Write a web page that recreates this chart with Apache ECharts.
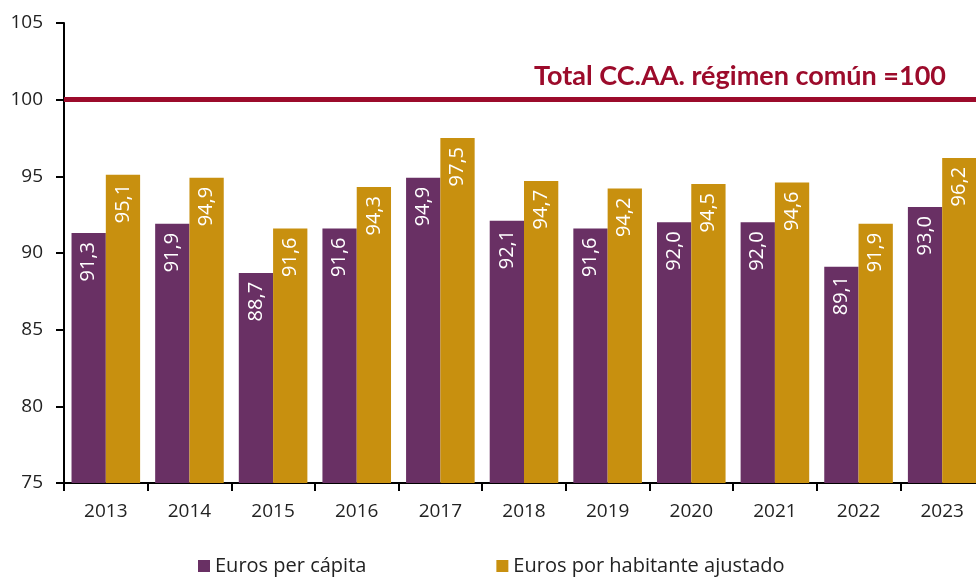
<!DOCTYPE html>
<html>
<head>
<meta charset="utf-8">
<script src="https://cdn.jsdelivr.net/npm/echarts@6/dist/echarts.min.js"></script>
<style>
  html, body { margin: 0; padding: 0; background: #fff; }
  #chart { width: 976px; height: 577px; }
</style>
</head>
<body>
<div id="chart"></div>
<script>
// datos
var years = ['2013', '2014', '2015', '2016', '2017', '2018', '2019', '2020', '2021', '2022', '2023'];
var perCapita = [91.3, 91.9, 88.7, 91.6, 94.9, 92.1, 91.6, 92.0, 92.0, 89.1, 93.0];
var ajustado = [95.1, 94.9, 91.6, 94.3, 97.5, 94.7, 94.2, 94.5, 94.6, 91.9, 96.2];
var yTicks = [75, 80, 85, 90, 95, 100, 105];
var referencia = 100;
var refLabel = 'Total CC.AA. régimen común =100';
var seriesNames = ['Euros per cápita', 'Euros por habitante ajustado'];

var fontBase = '"Open Sans", "Noto Sans", sans-serif';

function fmt(v) {
    return v.toFixed(1).replace('.', ',');
}

var barLabel = {
    show: true,
    position: 'insideTop',
    rotate: 90,
    align: 'right',
    verticalAlign: 'middle',
    distance: 9,
    color: '#ffffff',
    fontSize: 20,
    fontFamily: fontBase,
    formatter: function (p) { return fmt(p.value); }
};

var chart = echarts.init(document.getElementById('chart'));
chart.setOption({
    animation: false,
    color: ['#693064', '#c8900f'],
    grid: {
        left: 64,
        top: 23,
        bottom: 94,
        width: 920,
        containLabel: false,
        outerBoundsMode: 'none'
    },
    legend: {
        top: 551,
        left: 193,
        itemWidth: 12,
        itemHeight: 12,
        itemGap: 130,
        icon: 'rect',
        textStyle: { fontSize: 20, color: '#222', fontFamily: fontBase },
        data: seriesNames
    },
    xAxis: {
        type: 'category',
        data: years,
        axisLine: { lineStyle: { color: '#000', width: 2 } },
        axisTick: { show: true, length: 8, lineStyle: { color: '#000', width: 2 } },
        axisLabel: { fontSize: 19, color: '#222', margin: 19, fontFamily: fontBase },
        splitLine: { show: false }
    },
    yAxis: {
        type: 'value',
        min: yTicks[0],
        max: yTicks[yTicks.length - 1],
        interval: 5,
        axisLine: { show: true, lineStyle: { color: '#000', width: 2 } },
        axisTick: { show: true, length: 8, lineStyle: { color: '#000', width: 2 } },
        axisLabel: { fontSize: 19, color: '#222', margin: 21, fontFamily: fontBase },
        splitLine: { show: false }
    },
    series: [
        {
            name: seriesNames[0],
            type: 'bar',
            barGap: '0%',
            barCategoryGap: '18%',
            label: barLabel,
            data: perCapita,
            markLine: {
                silent: true,
                symbol: 'none',
                lineStyle: { color: '#9c0b2b', width: 5, type: 'solid' },
                label: {
                    show: true,
                    position: 'insideEndTop',
                    formatter: refLabel,
                    color: '#9c0b2b',
                    fontFamily: 'Lato, "Open Sans", sans-serif',
                    fontWeight: 'bold',
                    fontSize: 27,
                    distance: [38, 10]
                },
                data: [{ yAxis: referencia }]
            }
        },
        {
            name: seriesNames[1],
            type: 'bar',
            barGap: '0%',
            barCategoryGap: '18%',
            label: barLabel,
            data: ajustado
        }
    ]
});
</script>
</body>
</html>
